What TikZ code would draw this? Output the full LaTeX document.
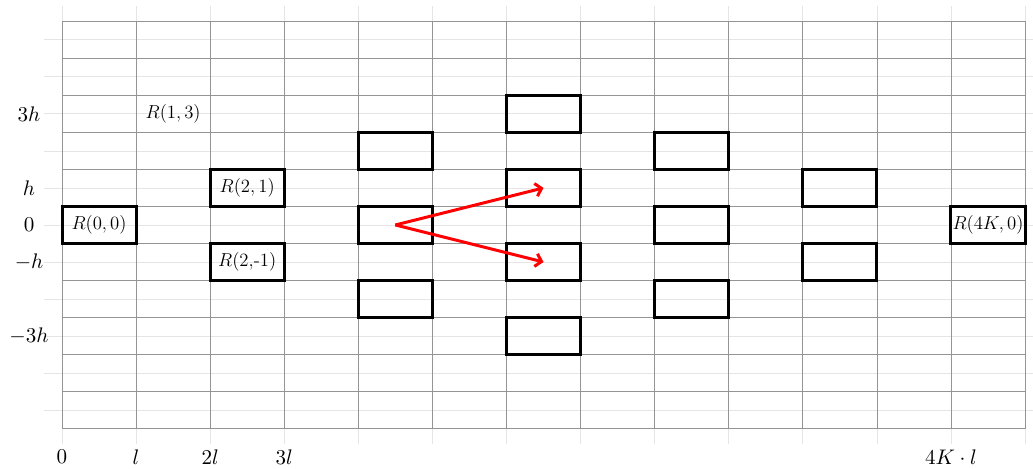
\documentclass[tikz,border=0pt]{standalone}
\usetikzlibrary{arrows.meta}

\begin{document}
\begin{tikzpicture}[
  cell/.style={rectangle, draw, line width=2.3pt, minimum width=2cm, minimum height=1cm, inner sep=0pt, font=\Large},
  rlabel/.style={inner sep=0pt, font=\Large},
  axlabel/.style={inner sep=0pt, scale=1.62},
  majorline/.style={black!42, line width=0.6pt},
  minorline/.style={black!10, line width=0.6pt},
  move/.style={red, line width=2.3pt, -{Straight Barb[length=4.5pt, width=10pt]}}
]
\useasboundingbox (-1.674,-6.561) rectangle (26.215,6.074);

% light grid
\foreach \y in {-5,...,5}
  \draw[minorline] (-0.49,\y) -- (26.215,\y);
\foreach \x in {0,2,...,26}
  \draw[minorline] (\x,-5.9) -- (\x,5.9);

% cell grid
\foreach \y in {-5.5,-4.5,...,5.5}
  \draw[majorline] (0,\y) -- (26,\y);
\foreach \x in {0,2,...,26}
  \draw[majorline] (\x,-5.5) -- (\x,5.5);

% axis labels
\node[axlabel] (y3)  at (-0.89,3)  {$3h$};
\node[axlabel] (y1)  at (-0.89,1)  {$h$};
\node[axlabel] (y0)  at (-0.89,0)  {$0$};
\node[axlabel] (ym1) at (-0.89,-1) {$-h$};
\node[axlabel] (ym3) at (-0.89,-3) {$-3h$};

\node[axlabel] (x0) at (0,-6.26)  {$0$};
\node[axlabel] (x1) at (2,-6.26)  {$l$};
\node[axlabel] (x2) at (4,-6.26)  {$2l$};
\node[axlabel] (x3) at (6,-6.26)  {$3l$};
\node[axlabel] (xk) at (24,-6.26) {$4K\cdot l$};

\node[rlabel] (r13) at (3,3) {$R(1,3)$};

% rectangles
\node[cell] (r00)  at (1,0)   {$R(0,0)$};
\node[cell] (r21)  at (5,1)   {$R(2,1)$};
\node[cell] (r2m1) at (5,-1)  {$R(2,$-$1)$};

\node[cell] (r42)  at (9,2)   {};
\node[cell] (r40)  at (9,0)   {};
\node[cell] (r4m2) at (9,-2)  {};

\node[cell] (r63)  at (13,3)  {};
\node[cell] (r61)  at (13,1)  {};
\node[cell] (r6m1) at (13,-1) {};
\node[cell] (r6m3) at (13,-3) {};

\node[cell] (r82)  at (17,2)  {};
\node[cell] (r80)  at (17,0)  {};
\node[cell] (r8m2) at (17,-2) {};

\node[cell] (r101)  at (21,1)  {};
\node[cell] (r10m1) at (21,-1) {};

\node[cell] (rk0) at (25,0) {$R(4K,0)$};

% moves
\draw[move] (r40.center) -- (r61.center);
\draw[move] (r40.center) -- (r6m1.center);

\end{tikzpicture}
\end{document}
